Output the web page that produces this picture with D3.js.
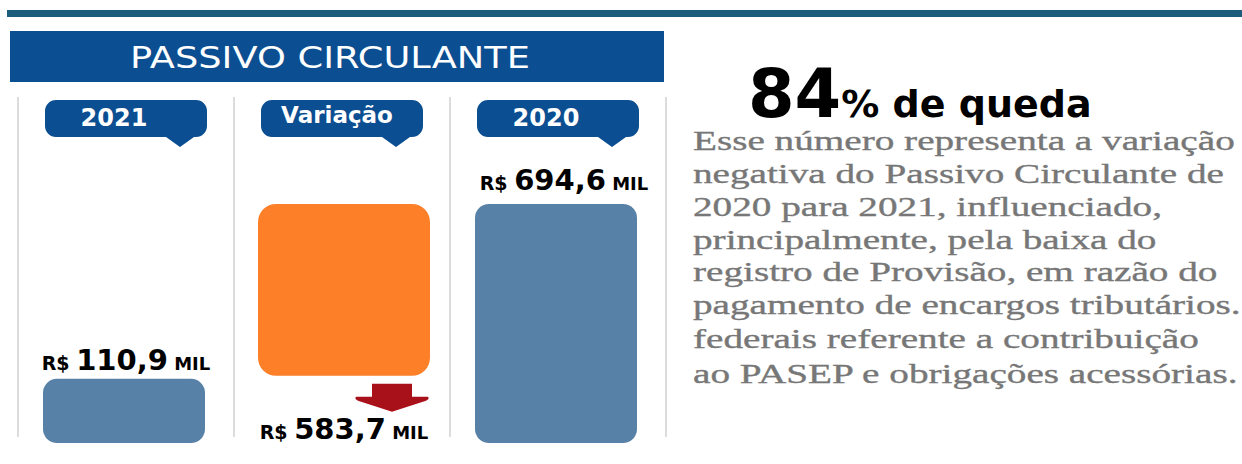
<!DOCTYPE html>
<html>
<head>
<meta charset="utf-8">
<script src="https://cdn.jsdelivr.net/npm/d3@7/dist/d3.min.js"></script>
<style>
  html, body { margin: 0; padding: 0; background: #ffffff; }
  svg { display: block; }
</style>
</head>
<body>
<script>
// ---------------- DATA ----------------
const categories = ["2021", "Variação", "2020"];
const values = [110.9, 583.7, 694.6];          // R$ mil: 2021, variação (queda), 2020
const percentDrop = 84;
const headerTitle = "PASSIVO CIRCULANTE";
const currencyPrefix = "R$";
const unitSuffix = "MIL";
const dropSuffix = "% de queda";
const paragraphLines = [
  "Esse número representa a variação",
  "negativa do Passivo Circulante de",
  "2020 para 2021, influenciado,",
  "principalmente, pela baixa do",
  "registro de Provisão, em razão do",
  "pagamento de encargos tributários.",
  "federais referente a contribuição",
  "ao PASEP e obrigações acessórias."
];

// ---------------- LAYOUT ----------------
const W = 1242, H = 464;
const blue = "#0b4e91", steel = "#5781a7", orange = "#fd7f27", red = "#a8111a";
const svg = d3.select("body").append("svg").attr("width", W).attr("height", H);

const br = d3.formatLocale({decimal: ",", thousands: ".", grouping: [3], currency: ["R$ ", ""]});
const fmt = br.format(".1f");

// top rule
svg.append("rect").attr("x", 7).attr("y", 10).attr("width", W - 7).attr("height", 7).attr("fill", "#1c5d7b");

// header
svg.append("rect").attr("x", 10).attr("y", 31).attr("width", 654).attr("height", 51).attr("fill", blue);
svg.append("text").attr("x", 130).attr("y", 68)
  .attr("textLength", 400).attr("lengthAdjust", "spacingAndGlyphs")
  .attr("font-family", "DejaVu Sans").attr("font-size", 31).attr("fill", "#fff")
  .text(headerTitle);

// scales
const x = d3.scaleBand().domain(categories).range([18, 666]);
const y = d3.scaleLinear().domain([0, values[2]]).range([412, 204]);
const base = 443;
const cx = c => x(c) + x.bandwidth() / 2;

// column separators
const bounds = [x.range()[0]].concat(categories.map(c => x(c) + x.bandwidth()));
svg.selectAll("line.sep").data(bounds).join("line").attr("class", "sep")
  .attr("x1", d => d).attr("x2", d => d).attr("y1", 97).attr("y2", 437)
  .attr("stroke", "#dcdcdc").attr("stroke-width", 2);

// speech bubbles
function bubblePath(c) {
  const w = 162, h = 37, r = 11, top = 100, left = c - w / 2;
  const p = d3.path();
  p.moveTo(left + r, top);
  p.lineTo(left + w - r, top);
  p.arcTo(left + w, top, left + w, top + r, r);
  p.lineTo(left + w, top + h - r);
  p.arcTo(left + w, top + h, left + w - r, top + h, r);
  p.lineTo(c + 68, top + h);
  p.lineTo(c + 54, top + h + 10);
  p.lineTo(c + 40, top + h);
  p.lineTo(left + r, top + h);
  p.arcTo(left, top + h, left, top + h - r, r);
  p.lineTo(left, top + r);
  p.arcTo(left, top, left + r, top, r);
  p.closePath();
  return p.toString();
}
svg.selectAll("path.bubble").data(categories).join("path").attr("class", "bubble")
  .attr("d", d => bubblePath(cx(d))).attr("fill", blue);
svg.selectAll("text.cat").data(categories).join("text").attr("class", "cat")
  .attr("x", d => cx(d) - (d === "Variação" ? 5 : 12))
  .attr("y", (d) => d === "Variação" ? 123 : 126)
  .attr("text-anchor", "middle")
  .attr("font-family", "DejaVu Sans")
  .attr("font-weight", "bold")
  .attr("font-size", d => d === "Variação" ? 23 : 24)
  .attr("fill", "#fff")
  .text(d => d);

// blue bars (2021, 2020)
const levels = [
  {cat: categories[0], v: values[0]},
  {cat: categories[2], v: values[2]}
];
svg.selectAll("rect.bar").data(levels).join("rect").attr("class", "bar")
  .attr("x", d => cx(d.cat) - 83).attr("width", 162)
  .attr("y", d => y(d.v)).attr("height", d => base - y(d.v))
  .attr("rx", 14).attr("fill", steel);

// orange variation bar (waterfall: from 2021 level up to 2020 level)
const varTop = y(values[0] + values[1]);
const varBottom = y(values[0]) - 3;
svg.append("rect")
  .attr("x", cx(categories[1]) - 84).attr("width", 172)
  .attr("y", varTop).attr("height", varBottom - varTop)
  .attr("rx", 18).attr("fill", orange);

// down arrow
const ax = cx(categories[1]) + 88 - 38, at = varBottom + 8;
svg.append("path")
  .attr("d", `M${ax-20},${at} L${ax+20},${at} L${ax+20},${at+13} L${ax+36},${at+13} Q${ax+38},${at+15} ${ax+34},${at+17} L${ax},${at+28} L${ax-34},${at+17} Q${ax-38},${at+15} ${ax-36},${at+13} L${ax-20},${at+13} Z`)
  .attr("fill", red);

// value labels
function valueLabel(xc, yb, v) {
  const t = svg.append("text").attr("x", xc).attr("y", yb).attr("text-anchor", "middle")
    .attr("font-family", "DejaVu Sans").attr("font-weight", "bold").attr("fill", "#000");
  t.append("tspan").attr("font-size", 19).text(currencyPrefix + " ");
  t.append("tspan").attr("font-size", 29).text(fmt(v));
  t.append("tspan").attr("font-size", 18).text(" " + unitSuffix);
}
valueLabel(cx(categories[0]), y(values[0]) - 9, values[0]);
valueLabel(cx(categories[2]) + 6, y(values[2]) - 14, values[2]);
valueLabel(cx(categories[1]) + 2, at + 55, values[1]);

// right panel headline
const hl = svg.append("text").attr("x", 748).attr("y", 117)
  .attr("font-family", "DejaVu Sans").attr("font-weight", "bold").attr("fill", "#000");
hl.append("tspan").attr("font-size", 67).text(percentDrop);
hl.append("tspan").attr("font-size", 38).text(dropSuffix);

// paragraph
const pg = svg.append("g");
const baselines = [150, 183, 216, 249, 281, 314, 348, 383];
const pt = pg.selectAll("text").data(paragraphLines).join("text")
  .attr("x", 0).attr("y", (d, i) => baselines[i])
  .attr("font-family", "Liberation Serif").attr("font-size", 27)
  .attr("fill", "#777777").attr("stroke", "#777777").attr("stroke-width", 0.35)
  .text(d => d);
const w0 = pt.node().getComputedTextLength();
const sx = 542 / w0;
pg.attr("transform", `translate(693,0) scale(${sx},1)`);
</script>
</body>
</html>
